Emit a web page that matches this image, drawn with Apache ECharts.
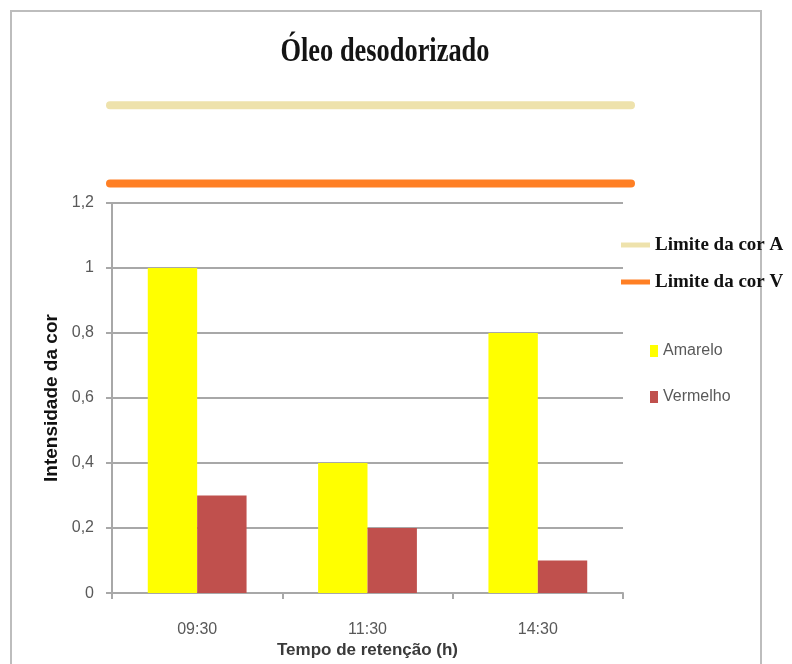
<!DOCTYPE html>
<html>
<head>
<meta charset="utf-8">
<script src="https://cdn.jsdelivr.net/npm/echarts@6/dist/echarts.min.js"></script>
<style>
  html, body { margin: 0; padding: 0; background: #fff; }
  #chart { width: 792px; height: 664px; }
</style>
</head>
<body>
<div id="chart"></div>
<script>
// Retention times and colour intensities
const categories = ['09:30', '11:30', '14:30'];
const amarelo = [1, 0.4, 0.8];
const vermelho = [0.3, 0.2, 0.1];

// Colour limits (horizontal reference lines)
const limiteA = 1.5;
const limiteV = 1.26;
const limiteSpan = [0, 1];

const yTicks = { min: 0, max: 1.2, interval: 0.2 };

const chart = echarts.init(document.getElementById('chart'), null, { renderer: 'canvas' });

const gridColor = '#a8a8a8';
const labelColor = '#595959';
const sans = "'Liberation Sans', Arial, sans-serif";
const serif = "'Liberation Serif', 'Times New Roman', serif";

// Main plot spans y 203..594; the overlay grid keeps the same scale but reaches higher
const plotTop = 203, plotBottom = 594;
const pxPerUnit = (plotBottom - plotTop) / yTicks.max;
const overlayMax = 1.6;
const overlayTop = plotBottom - overlayMax * pxPerUnit;

const limitLine = (name, value, color) => ({
  name: name,
  type: 'line',
  xAxisIndex: 1,
  yAxisIndex: 1,
  symbol: 'none',
  silent: true,
  color: color,
  lineStyle: { color: color, width: 8, cap: 'round' },
  data: limiteSpan.map(x => [x, value]),
  z: 5
});

chart.setOption({
  animation: false,
  backgroundColor: '#fff',
  graphic: [
    {
      type: 'rect',
      shape: { x: 11, y: 11, width: 750, height: 700 },
      style: { fill: 'none', stroke: '#bdbdbd', lineWidth: 2 },
      silent: true
    },
    {
      type: 'text',
      x: 385, y: 52,
      scaleX: 0.8,
      style: {
        text: 'Óleo desodorizado',
        fontFamily: serif, fontWeight: 'bold', fontSize: 33,
        fill: '#141414', textAlign: 'center', textVerticalAlign: 'middle'
      }
    }
  ],
  legend: [
    {
      data: ['Limite da cor A', 'Limite da cor V'],
      orient: 'vertical',
      left: 616, top: 229,
      icon: 'rect',
      itemWidth: 29, itemHeight: 5,
      itemGap: 15,
      textStyle: { fontFamily: serif, fontWeight: 'bold', fontSize: 19, lineHeight: 22, color: '#111' }
    },
    {
      data: ['Amarelo', 'Vermelho'],
      orient: 'vertical',
      left: 645, top: 337,
      icon: 'rect',
      itemWidth: 8, itemHeight: 12,
      itemGap: 28,
      textStyle: { fontFamily: sans, fontSize: 16, lineHeight: 18, color: labelColor }
    }
  ],
  grid: [
    { left: 112, right: 792 - 623, top: plotTop, bottom: 664 - plotBottom },
    { left: 110, right: 792 - 631, top: overlayTop, bottom: 664 - plotBottom }
  ],
  xAxis: [
    {
      type: 'category',
      gridIndex: 0,
      data: categories,
      name: 'Tempo de retenção (h)',
      nameLocation: 'middle',
      nameGap: 46,
      nameTextStyle: { fontFamily: sans, fontWeight: 'bold', fontSize: 17, color: '#3a3a3a' },
      axisLine: { lineStyle: { color: gridColor, width: 2 } },
      axisTick: { show: true, length: 6, lineStyle: { color: gridColor, width: 2 } },
      axisLabel: { fontFamily: sans, fontSize: 16, color: labelColor, margin: 28 }
    },
    {
      type: 'value',
      gridIndex: 1,
      min: 0, max: 1,
      show: false
    }
  ],
  yAxis: [
    {
      type: 'value',
      gridIndex: 0,
      min: yTicks.min, max: yTicks.max, interval: yTicks.interval,
      name: 'Intensidade da cor',
      nameLocation: 'middle',
      nameGap: 48,
      nameTextStyle: { fontFamily: sans, fontWeight: 'bold', fontSize: 19, color: '#111' },
      axisLine: { show: true, lineStyle: { color: gridColor, width: 2 } },
      axisTick: { show: true, length: 6, lineStyle: { color: gridColor, width: 2 } },
      splitLine: { show: true, lineStyle: { color: gridColor, width: 2 } },
      axisLabel: {
        fontFamily: sans, fontSize: 16, color: labelColor, margin: 18,
        formatter: v => String(+v.toFixed(1)).replace('.', ',')
      }
    },
    {
      type: 'value',
      gridIndex: 1,
      min: 0, max: overlayMax,
      show: false
    }
  ],
  series: [
    {
      name: 'Amarelo',
      type: 'bar',
      xAxisIndex: 0, yAxisIndex: 0,
      data: amarelo,
      color: '#ffff00',
      barGap: '0%',
      barCategoryGap: '42%'
    },
    {
      name: 'Vermelho',
      type: 'bar',
      xAxisIndex: 0, yAxisIndex: 0,
      data: vermelho,
      color: '#c0504d',
      barGap: '0%',
      barCategoryGap: '42%'
    },
    limitLine('Limite da cor A', limiteA, '#eee2ac'),
    limitLine('Limite da cor V', limiteV, '#ff7f24')
  ]
});
</script>
</body>
</html>
